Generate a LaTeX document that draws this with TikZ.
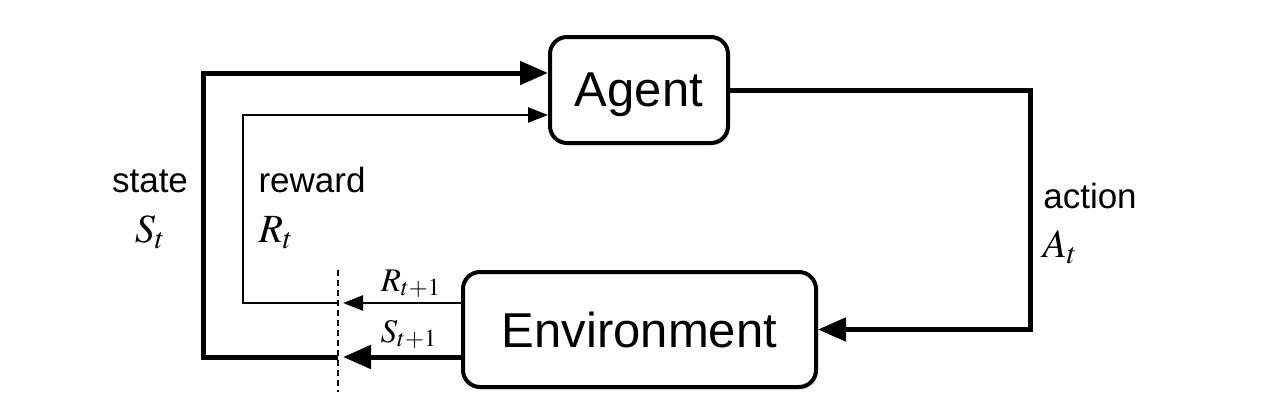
\documentclass[tikz,border=0pt]{standalone}
\usepackage{mathptmx}
\usepackage[no-math]{fontspec}
\setmainfont{Liberation Sans}
\usetikzlibrary{arrows.meta,shadows}

\tikzset{
  box/.style={draw, line width=2pt, rounded corners=8.5pt, fill=white,
    drop shadow={shadow xshift=1pt, shadow yshift=-1.2pt, opacity=0.3},
    font=\fontsize{24.5}{29}\selectfont},
  heavy/.style={line width=2.5pt, -{Triangle[length=14pt,width=11.5pt]}},
  light/.style={line width=1.3pt, -{Triangle[length=10pt,width=7.5pt]}},
  lbl/.style={anchor=base, font=\fontsize{17.5}{21}\selectfont},
  sym/.style={anchor=base, font=\fontsize{20}{24}\selectfont},
  symsmall/.style={anchor=base, font=\fontsize{16.5}{19}\selectfont},
}

\begin{document}
\begin{tikzpicture}[x=0.5pt, y=-0.5pt]
\useasboundingbox (0,0) rectangle (1265,407);

\node[box, minimum width=89pt, minimum height=53pt, text depth=0pt] (agent) at (639,90) {Agent};
\node[box, minimum width=176.5pt, minimum height=57.5pt] (env) at (639.5,329.5) {Environment};

\coordinate (cutT) at (338,270);
\coordinate (cutB) at (338,392);
\draw[line width=0.7pt, dash pattern=on 3pt off 2pt] (cutT) -- (cutB);

\coordinate (sOut) at (338,357);
\coordinate (sIn) at (343,357);
\coordinate (rOut) at (338,303);
\coordinate (rIn) at (343,303);
\coordinate (turn) at (1030,90);

\draw[heavy] ([yshift=-13.75pt]env.west) -- (sIn);
\draw[light] ([yshift=13.25pt]env.west) -- (rIn);
\draw[heavy] (sOut) -- ++(-135,0) |- ([yshift=8.5pt]agent.west);
\draw[light] (rOut) -- ++(-95,0) |- ([yshift=-12.5pt]agent.west);
\draw[heavy] (agent.east) -- (turn) |- (env.east);

\node[lbl] (state) at (150,192) {state};
\node[sym] (st) at (150,242) {$S_t$};
\node[lbl] (reward) at (312,192) {reward};
\node[sym] (rt) at (276,242) {$R_t$};
\node[lbl] (action) at (1090,208) {action};
\node[sym] (at) at (1060,257) {$A_t$};
\node[symsmall] (rnext) at (411,291) {$R_{t+1}$};
\node[symsmall] (snext) at (409,342) {$S_{t+1}$};
\end{tikzpicture}
\end{document}
